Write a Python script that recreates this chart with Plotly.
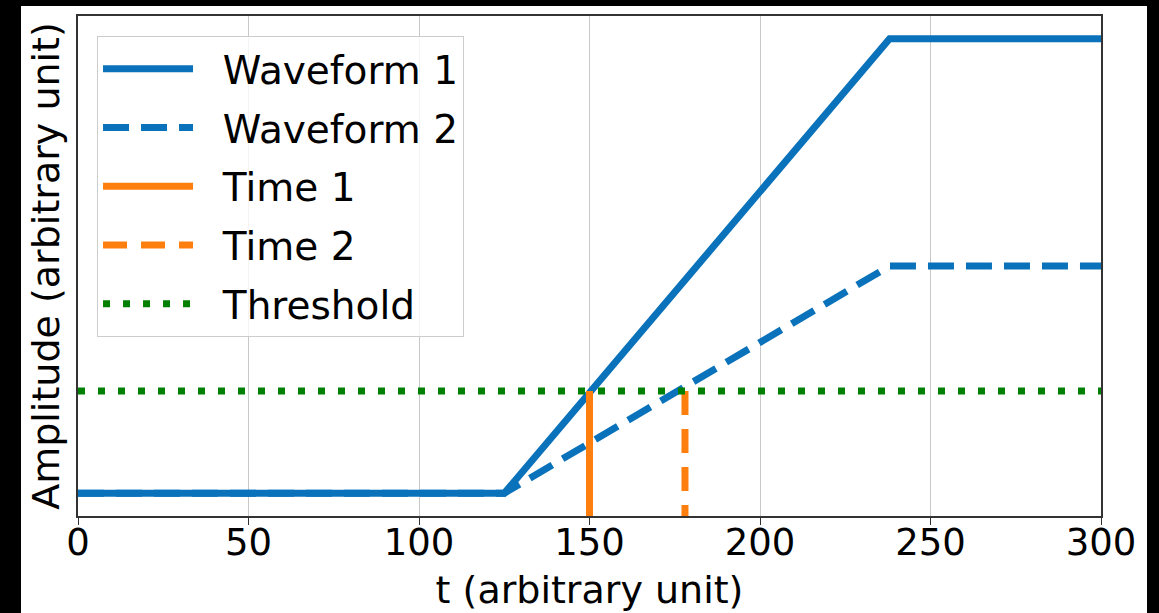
import plotly.graph_objects as go

# ---- data ----
t_wave = [0, 125, 238, 300]
waveform1 = [0.0, 0.0, 1.0, 1.0]
waveform2 = [0.0, 0.0, 0.5, 0.5]
threshold = 0.225
time1 = 150
time2 = 178
x_ticks = [0, 50, 100, 150, 200, 250, 300]
y_min, y_max = -0.05, 1.05

BLUE = "#0a72ba"
ORANGE = "#ff7f0e"
GREEN = "#008000"
FONT = "DejaVu Sans"
PAD = "\u00a0\u00a0"

fig = go.Figure()
fig.add_trace(go.Scatter(x=t_wave, y=waveform1, mode="lines", name=PAD + "Waveform 1",
                         line=dict(color=BLUE, width=7), legendgroup="a"))
fig.add_trace(go.Scatter(x=t_wave, y=waveform2, mode="lines", name=PAD + "Waveform 2",
                         line=dict(color=BLUE, width=7, dash="26px,12px"), legendgroup="b"))
fig.add_trace(go.Scatter(x=[time1, time1], y=[threshold, y_min], mode="lines", name=PAD + "Time 1",
                         line=dict(color=ORANGE, width=7), legendgroup="c"))
fig.add_trace(go.Scatter(x=[time2, time2], y=[threshold, y_min], mode="lines", name=PAD + "Time 2",
                         line=dict(color=ORANGE, width=7, dash="24px,14px"), legendgroup="d"))
fig.add_trace(go.Scatter(x=[x_ticks[0], x_ticks[-1]], y=[threshold, threshold], mode="lines",
                         name=PAD + "Threshold",
                         line=dict(color=GREEN, width=7, dash="7px,13px"), legendgroup="e"))

fig.update_layout(
    width=1159, height=613,
    margin=dict(l=78, r=58, t=16, b=97),
    paper_bgcolor="black",
    plot_bgcolor="white",
    font=dict(family=FONT, size=37, color="black"),
    showlegend=True,
    legend=dict(
        x=0.0186, y=0.96, xanchor="left", yanchor="top",
        bgcolor="rgba(255,255,255,0.8)", bordercolor="#cccccc", borderwidth=1,
        font=dict(family=FONT, size=39, color="black"),
        tracegroupgap=5, traceorder="grouped", itemwidth=90,
    ),
    shapes=[dict(type="rect", xref="paper", yref="paper",
                 x0=-57 / 1023, x1=1069 / 1023, y0=-100 / 500, y1=510 / 500,
                 fillcolor="white", line=dict(width=0), layer="below")],
)
fig.update_xaxes(
    range=[0, 300], tickvals=x_ticks, ticks="outside", ticklen=7, tickcolor="#333333",
    ticklabelstandoff=-14,
    showgrid=True, gridcolor="#c8c8c8", gridwidth=1,
    showline=True, linecolor="#333333", linewidth=1.5, mirror=True,
    zeroline=False, automargin=False,
    tickfont=dict(family=FONT, size=37, color="black"),
    title=dict(text="t (arbitrary unit)", font=dict(family=FONT, size=38, color="black"), standoff=13),
)
fig.update_yaxes(
    range=[y_min, y_max], showticklabels=False, ticks="", showgrid=False,
    showline=True, linecolor="#333333", linewidth=1.5, mirror=True, zeroline=False,
    automargin=False,
    title=dict(text="Amplitude (arbitrary unit)", font=dict(family=FONT, size=38, color="black"), standoff=5),
)

fig.write_html("out.html")
